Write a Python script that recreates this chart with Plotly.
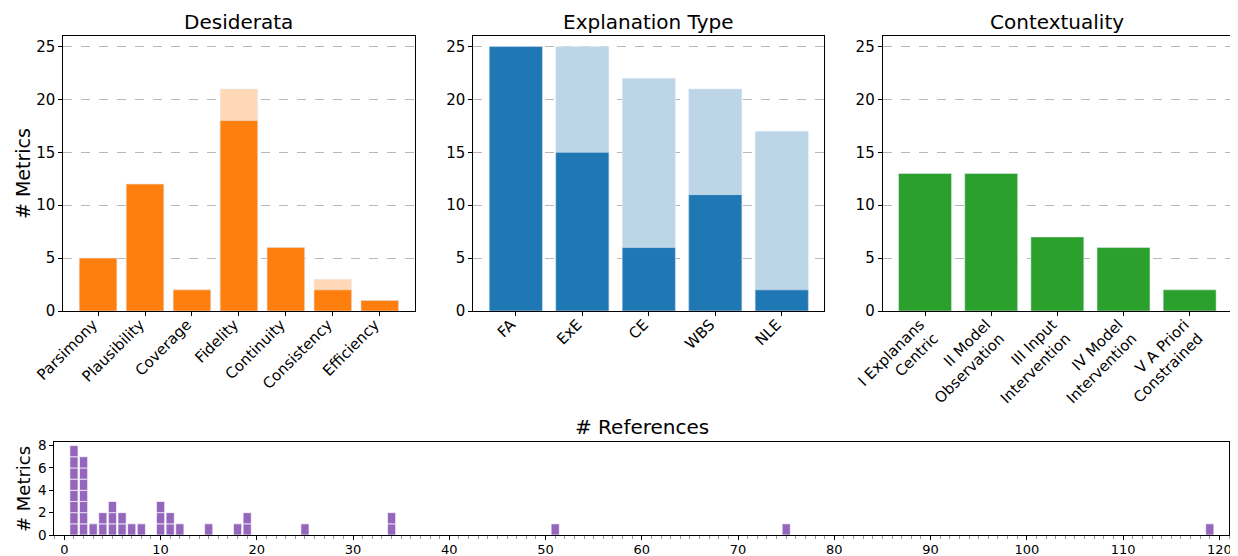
import plotly.graph_objects as go

# ---- data ----
desiderata = ["Parsimony", "Plausibility", "Coverage", "Fidelity", "Continuity", "Consistency", "Efficiency"]
desiderata_total = [5, 12, 2, 21, 6, 3, 1]
desiderata_core = [5, 12, 2, 18, 6, 2, 1]

expl_types = ["FA", "ExE", "CE", "WBS", "NLE"]
expl_total = [25, 25, 22, 21, 17]
expl_core = [25, 15, 6, 11, 2]

context = ["I Explanans<br>Centric", "II Model<br>Observation", "III Input<br>Intervention",
           "IV Model<br>Intervention", "V A Priori<br>Constrained"]
context_vals = [13, 13, 7, 6, 2]

ref_x = [1, 2, 3, 4, 5, 6, 7, 8, 10, 11, 12, 15, 18, 19, 25, 34, 51, 75, 119]
ref_n = [8, 7, 1, 2, 3, 2, 1, 1, 3, 2, 1, 1, 1, 2, 1, 2, 1, 1, 1]

ORANGE = "#ff7f0e"; ORANGE_L = "#ffd9b7"
BLUE = "#1f77b4"; BLUE_L = "#bcd6e8"
GREEN = "#2ca02c"; PURPLE = "#9467bd"
FONT = "DejaVu Sans"

# page has an 8px body margin: the figure is sized to fit the rest of the window
OFF = 8
W, H = 1238 - OFF, 556 - OFF
def px(s): return (s - OFF) / W
def py(s): return 1 - (s - OFF) / H
def xd(a, b): return [px(a), px(b)]
def yd(top, bot): return [py(bot), py(top)]

fig = go.Figure()

# Desiderata
fig.add_trace(go.Bar(x=desiderata, y=desiderata_total, marker_color=ORANGE_L, width=0.8,
                     xaxis="x", yaxis="y", showlegend=False))
fig.add_trace(go.Bar(x=desiderata, y=desiderata_core, marker_color=ORANGE, width=0.8,
                     xaxis="x", yaxis="y", showlegend=False))
# Explanation type
fig.add_trace(go.Bar(x=expl_types, y=expl_total, marker_color=BLUE_L, width=0.8,
                     xaxis="x2", yaxis="y2", showlegend=False))
fig.add_trace(go.Bar(x=expl_types, y=expl_core, marker_color=BLUE, width=0.8,
                     xaxis="x2", yaxis="y2", showlegend=False))
# Contextuality
fig.add_trace(go.Bar(x=context, y=context_vals, marker_color=GREEN, width=0.8,
                     xaxis="x3", yaxis="y3", showlegend=False))

# References: stacked unit squares
sx, sy, sb = [], [], []
for xv, n in zip(ref_x, ref_n):
    for k in range(n):
        sx.append(xv); sy.append(1); sb.append(k)
fig.add_trace(go.Bar(x=sx, y=sy, base=sb, width=0.85, marker_color=PURPLE,
                     marker_line=dict(color="rgba(255,255,255,0.65)", width=1),
                     xaxis="x4", yaxis="y4", showlegend=False))

common_x = dict(showline=True, linecolor="black", linewidth=1, mirror=True,
                ticks="outside", ticklen=4, tickcolor="black", showgrid=False,
                zeroline=False, automargin=False,
                tickfont=dict(family=FONT, size=15, color="black"))
rot_x = dict(common_x, tickangle=-45, type="category",
             ticklabelstandoff=-6, ticklabelshift=-5)
common_y = dict(showline=True, linecolor="black", linewidth=1, mirror=True,
                ticks="outside", ticklen=4, tickcolor="black", showgrid=True,
                gridcolor="#b8b8b8", griddash="dash", gridwidth=1,
                zeroline=False, automargin=False,
                tickfont=dict(family=FONT, size=15, color="black"),
                range=[0, 26], tickvals=[0, 5, 10, 15, 20, 25])

top_y = yd(36, 311)
fig.update_layout(
    width=W, height=H, margin=dict(l=0, r=0, t=0, b=0, autoexpand=False),
    paper_bgcolor="white", plot_bgcolor="white", barmode="overlay",
    font=dict(family=FONT, color="black"),
    xaxis=dict(rot_x, domain=xd(63.3, 414.5), anchor="y", range=[-0.74, 6.74]),
    yaxis=dict(common_y, domain=top_y, anchor="x"),
    xaxis2=dict(rot_x, domain=xd(473.3, 824.3), anchor="y2", range=[-0.64, 4.64]),
    yaxis2=dict(common_y, domain=top_y, anchor="x2"),
    xaxis3=dict(rot_x, domain=xd(882.7, 1232), anchor="y3", range=[-0.64, 4.64]),
    yaxis3=dict(common_y, domain=top_y, anchor="x3"),
    xaxis4=dict(common_x, domain=xd(54.3, 1229), anchor="y4", range=[-1.04, 121],
                tickvals=list(range(0, 121, 10)), ticklabelstandoff=-2,
                tickfont=dict(family=FONT, size=13, color="black"),
                minor=dict(dtick=1, ticks="outside", ticklen=2.5, tickcolor="#999999")),
    yaxis4=dict(showline=True, linecolor="black", linewidth=1, mirror=True,
                ticks="outside", ticklen=4, tickcolor="black", showgrid=False,
                zeroline=False, automargin=False, domain=yd(441.7, 535), anchor="x4",
                range=[0, 8.35], tickvals=[0, 2, 4, 6, 8],
                tickfont=dict(family=FONT, size=13.5, color="black")),
)

def title(text, x, y, size=20):
    fig.add_annotation(text=text, x=px(x), y=py(y), xref="paper", yref="paper",
                       showarrow=False, font=dict(family=FONT, size=size, color="black"),
                       xanchor="center", yanchor="middle")

title("Desiderata", (63.3 + 414.5) / 2, 22)
title("Explanation Type", (473.3 + 824.3) / 2, 22)
title("Contextuality", (882.7 + 1232) / 2, 22)
title("# References", (54.3 + 1229) / 2, 427)

fig.add_annotation(text="# Metrics", x=px(23), y=py(174), xref="paper", yref="paper",
                   showarrow=False, textangle=-90, font=dict(family=FONT, size=19, color="black"),
                   xanchor="center", yanchor="middle")
fig.add_annotation(text="# Metrics", x=px(23), y=py(489), xref="paper", yref="paper",
                   showarrow=False, textangle=-90, font=dict(family=FONT, size=18, color="black"),
                   xanchor="center", yanchor="middle")

fig.write_html("out.html")
